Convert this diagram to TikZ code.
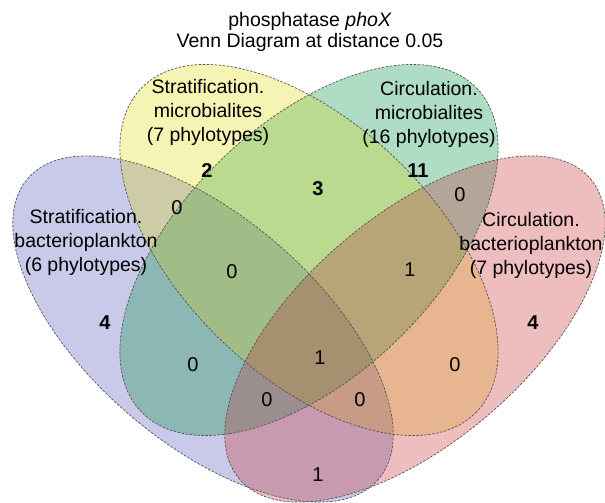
\documentclass[tikz,border=0pt]{standalone}
\usepackage{fontspec}
\setmainfont{Liberation Sans}
\usetikzlibrary{positioning}
\definecolor{setSB}{RGB}{201,201,234}
\definecolor{setSM}{RGB}{246,244,180}
\definecolor{setCM}{RGB}{174,221,196}
\definecolor{setCB}{RGB}{239,189,190}
\definecolor{setSBa}{RGB}{147,147,213}
\definecolor{setSMa}{RGB}{237,233,105}
\definecolor{setCMa}{RGB}{93,187,137}
\definecolor{setCBa}{RGB}{223,123,125}
\definecolor{rimgray}{RGB}{85,85,85}
\tikzset{
  % Ellissi degli insiemi
  set/.style={fill opacity=0.5},
  set mul/.style={blend mode=multiply},
  set rim/.style={draw=rimgray, line width=0.7pt, dash pattern=on 2.5pt off 1.5pt},
  % Testi
  title/.style={align=center, inner sep=0pt, font=\fontsize{19.5}{21}\selectfont},
  set label/.style={align=center, inner sep=0pt, font=\fontsize{19.5}{24}\selectfont},
  count/.style={inner sep=0pt, font=\fontsize{20}{24}\selectfont},
  count big/.style={count, font=\fontsize{20}{24}\selectfont\bfseries}
}
\begin{document}
\begin{tikzpicture}[x=1pt, y=-1pt]
    \useasboundingbox (0,0) rectangle (605,503);
    \coordinate (CenterSB) at (203,329);
    \coordinate (CenterSM) at (309,250);
    \coordinate (CenterCM) at (309,250);
    \coordinate (CenterCB) at (415,329);
    \fill[setSBa, set, rotate around={-40.6:(CenterSB)}] (CenterSB) ellipse (231 and 113);
    \fill[setCMa, set, rotate around={44:(CenterCM)}]    (CenterCM) ellipse (233 and 126);
    \fill[setSMa, set, rotate around={-44:(CenterSM)}]   (CenterSM) ellipse (233 and 126);
    \fill[setCBa, set, rotate around={40.6:(CenterCB)}]  (CenterCB) ellipse (231 and 113);
    \begin{scope}[transparency group, opacity=0.5]
      \fill[setSB, set mul, rotate around={-40.6:(CenterSB)}] (CenterSB) ellipse (231 and 113);
      \fill[setCM, set mul, rotate around={44:(CenterCM)}]    (CenterCM) ellipse (233 and 126);
      \fill[setSM, set mul, rotate around={-44:(CenterSM)}]   (CenterSM) ellipse (233 and 126);
      \fill[setCB, set mul, rotate around={40.6:(CenterCB)}]  (CenterCB) ellipse (231 and 113);
    \end{scope}
    \draw[set rim, rotate around={-40.6:(CenterSB)}] (CenterSB) ellipse (231 and 113);
    \draw[set rim, rotate around={-44:(CenterSM)}]   (CenterSM) ellipse (233 and 126);
    \draw[set rim, rotate around={44:(CenterCM)}]    (CenterCM) ellipse (233 and 126);
    \draw[set rim, rotate around={40.6:(CenterCB)}]  (CenterCB) ellipse (231 and 113);
    \node[title] (Title) at (310,32) {phosphatase \textit{phoX}\\Venn Diagram at distance 0.05};
    \node[set label] (LabelSM) at (208,112) {Stratification.\\microbialites\\(7 phylotypes)};
    \node[set label] (LabelCM) at (429,114) {Circulation.\\microbialites\\(16 phylotypes)};
    \node[set label] (LabelSB) at (86,242)  {Stratification.\\bacterioplankton\\(6 phylotypes)};
    \node[set label] (LabelCB) at (531,245) {Circulation.\\bacterioplankton\\(7 phylotypes)};
    \node[count big] (Area01) at (207,171) {2};
    \node[count big] (Area02) at (318,189) {3};
    \node[count big] (Area03) at (418,171) {11};
    \node[count]     (Area04) at (177,208) {0};
    \node[count]     (Area05) at (460,195) {0};
    \node[count]     (Area06) at (232,272) {0};
    \node[count]     (Area07) at (410,270) {1};
    \node[count big] (Area08) at (105,323) {4};
    \node[count big] (Area09) at (533,323) {4};
    \node[count]     (Area10) at (193,365) {0};
    \node[count]     (Area11) at (320,358) {1};
    \node[count]     (Area12) at (455,365) {0};
    \node[count]     (Area13) at (267,400) {0};
    \node[count]     (Area14) at (360,400) {0};
    \node[count]     (Area15) at (318,475) {1};
\end{tikzpicture}
\end{document}
